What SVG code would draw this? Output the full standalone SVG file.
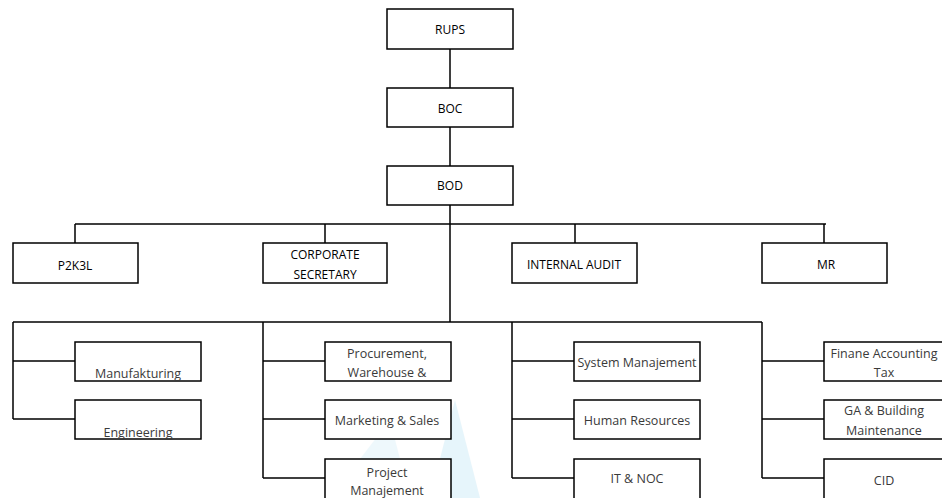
<svg xmlns="http://www.w3.org/2000/svg" width="942" height="498" viewBox="0 0 942 498">
<style>
.box{fill:#fff;stroke:#000;stroke-width:1.5}
.line{fill:none;stroke:#000;stroke-width:1.5}
.t{font-family:"Open Sans","Liberation Sans",sans-serif;font-size:12px;fill:#000;text-anchor:middle;dominant-baseline:central}
.g{fill:#3a3a3a;font-size:12.5px}
</style>
<rect width="942" height="498" fill="#fff"/>
<g id="watermark" opacity="0.25">
<polygon points="330,498 390,420 410,498" fill="#bfe6f5"/>
<polygon points="430,498 455,400 480,498" fill="#9fd8f0"/>
</g>
<g id="connectors">
<path class="line" d="M450 49V88M450 127V166M450 205V322"/>
<path class="line" d="M75 224H826M75 224V243M325 224V243M575 224V243M824 224V243"/>
<path class="line" d="M13 322H762"/>
<path class="line" d="M13 322V419M13 361H75M13 419H75"/>
<path class="line" d="M263 322V478M263 361H325M263 419H325M263 478H325"/>
<path class="line" d="M512 322V478M512 361H574M512 419H574M512 478H574"/>
<path class="line" d="M762 322V478M762 361H824M762 419H824M762 478H824"/>
</g>
<g id="rups"><rect class="box" x="387" y="9" width="126" height="40"/><text class="t" x="450" y="29">RUPS</text></g>
<g id="boc"><rect class="box" x="387" y="88" width="126" height="39"/><text class="t" x="450" y="108">BOC</text></g>
<g id="bod"><rect class="box" x="387" y="166" width="126" height="39"/><text class="t" x="450" y="185">BOD</text></g>
<g id="p2k3l"><rect class="box" x="13" y="243" width="125" height="40"/><text class="t" x="75" y="265">P2K3L</text></g>
<g id="corpsec"><rect class="box" x="263" y="243" width="124" height="40"/><text class="t" x="325" y="254">CORPORATE</text><text class="t" x="325" y="274">SECRETARY</text></g>
<g id="audit"><rect class="box" x="512" y="243" width="125" height="40"/><text class="t" x="574" y="264">INTERNAL AUDIT</text></g>
<g id="mr"><rect class="box" x="762" y="243" width="125" height="40"/><text class="t" x="826" y="264">MR</text></g>
<g id="manufakturing"><rect class="box" x="75" y="342" width="126" height="39"/><text class="t g" x="138" y="373">Manufakturing</text></g>
<g id="engineering"><rect class="box" x="75" y="400" width="126" height="39"/><text class="t g" x="138" y="432">Engineering</text></g>
<g id="procurement"><rect class="box" x="325" y="342" width="126" height="39"/><text class="t g" x="387" y="353">Procurement,</text><text class="t g" x="387" y="372">Warehouse &amp;</text></g>
<g id="marketing"><rect class="box" x="325" y="400" width="126" height="39"/><text class="t g" x="387" y="420">Marketing &amp; Sales</text></g>
<g id="project"><rect class="box" x="325" y="459" width="126" height="40"/><text class="t g" x="387" y="472">Project</text><text class="t g" x="387" y="490">Manajement</text></g>
<g id="system"><rect class="box" x="574" y="342" width="126" height="39"/><text class="t g" x="637" y="362">System Manajement</text></g>
<g id="hr"><rect class="box" x="574" y="400" width="126" height="39"/><text class="t g" x="637" y="420">Human Resources</text></g>
<g id="itnoc"><rect class="box" x="574" y="459" width="126" height="40"/><text class="t g" x="637" y="478">IT &amp; NOC</text></g>
<g id="finance"><rect class="box" x="824" y="342" width="126" height="39"/><text class="t g" x="884" y="353">Finane Accounting</text><text class="t g" x="884" y="372">Tax</text></g>
<g id="ga"><rect class="box" x="824" y="400" width="126" height="39"/><text class="t g" x="884" y="410">GA &amp; Building</text><text class="t g" x="884" y="430">Maintenance</text></g>
<g id="cid"><rect class="box" x="824" y="459" width="126" height="40"/><text class="t g" x="884" y="480">CID</text></g>
</svg>
